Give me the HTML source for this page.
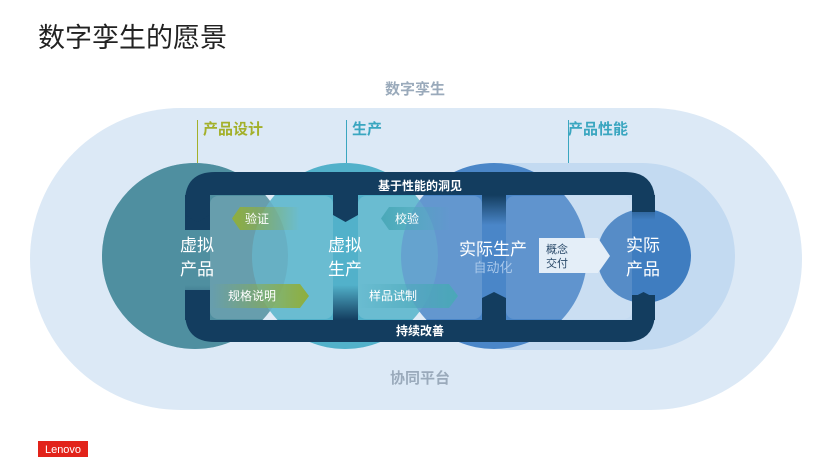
<!DOCTYPE html>
<html><head><meta charset="utf-8"><style>
body{margin:0;background:#fff;}
svg{display:block;font-family:"Liberation Sans","Noto Sans CJK SC",sans-serif;}
</style></head><body>
<svg width="837" height="468" viewBox="0 0 837 468">
<defs>
<linearGradient id="gL" x1="0" x2="1"><stop offset="0" stop-color="#8fae3c"/><stop offset="1" stop-color="#8fae3c" stop-opacity="0"/></linearGradient>
<linearGradient id="gR" x1="1" x2="0"><stop offset="0" stop-color="#8fae3c"/><stop offset="1" stop-color="#8fae3c" stop-opacity="0"/></linearGradient>
<linearGradient id="tL" x1="0" x2="1"><stop offset="0" stop-color="#4aa8b8"/><stop offset="1" stop-color="#4aa8b8" stop-opacity="0"/></linearGradient>
<linearGradient id="tR" x1="1" x2="0"><stop offset="0" stop-color="#4aa8b8"/><stop offset="1" stop-color="#4aa8b8" stop-opacity="0"/></linearGradient>
<linearGradient id="dn" x1="0" y1="0" x2="0" y2="1"><stop offset="0" stop-color="#133d5f"/><stop offset="1" stop-color="#133d5f" stop-opacity="0"/></linearGradient>
<linearGradient id="up" x1="0" y1="1" x2="0" y2="0"><stop offset="0" stop-color="#133d5f"/><stop offset="1" stop-color="#133d5f" stop-opacity="0"/></linearGradient>
</defs>
<text x="38" y="47" font-size="27" fill="#222">数字孪生的愿景</text>
<rect x="30" y="108" width="772" height="302" rx="151" fill="#dce9f6"/>
<rect x="420" y="163" width="315" height="187" rx="93" fill="#c3daf1"/>
<text x="415" y="94" font-size="15" font-weight="bold" fill="#9aaabb" text-anchor="middle">数字孪生</text>
<text x="420" y="383" font-size="15" font-weight="bold" fill="#9aaabb" text-anchor="middle">协同平台</text>
<line x1="197.5" y1="120" x2="197.5" y2="163" stroke="#a3b02a"/>
<line x1="346.5" y1="120" x2="346.5" y2="163" stroke="#3aa6c0"/>
<line x1="568.5" y1="120" x2="568.5" y2="163" stroke="#3aa6c0"/>
<text x="203" y="134" font-size="15" font-weight="bold" fill="#a3b02a">产品设计</text>
<text x="352" y="134" font-size="15" font-weight="bold" fill="#3aa6c0">生产</text>
<text x="568" y="134" font-size="15" font-weight="bold" fill="#3aa6c0">产品性能</text>
<!-- circles -->
<circle cx="195" cy="256" r="93" fill="#4f8fa0"/>
<circle cx="345" cy="256" r="93" fill="#4fb0c9" opacity="0.97"/>
<circle cx="195" cy="256" r="93" fill="#4f8fa0" opacity="0.5"/>
<circle cx="494" cy="256" r="93" fill="#4a86c8"/>
<circle cx="345" cy="256" r="93" fill="#4fb0c9" opacity="0.35"/>
<circle cx="644" cy="256" r="47" fill="#3f7dc0"/>
<!-- band top/bottom -->
<path d="M185 230 V202 Q185 172 215 172 H625 Q655 172 655 202 V212 H632 V195 H210 V230 Z" fill="#133d5f"/>
<path d="M185 290 V312 Q185 342 215 342 H625 Q655 342 655 312 V295 H632 V320 H210 V290 Z" fill="#133d5f"/>
<!-- inner boxes -->
<rect x="210" y="196" width="123" height="123" rx="8" fill="#fff" opacity="0.14"/>
<rect x="358" y="196" width="124" height="123" rx="8" fill="#fff" opacity="0.14"/>
<rect x="506" y="196" width="126" height="123" rx="8" fill="#fff" opacity="0.12"/>
<!-- connectors top -->
<path d="M185 195 H210 V215 L197.5 222 L185 215Z" fill="#133d5f"/>
<path d="M333 195 H358 V215 L345.5 222 L333 215Z" fill="#133d5f"/>
<rect x="482" y="195" width="24" height="30" fill="url(#dn)"/>
<rect x="632" y="195" width="23" height="25" fill="url(#dn)"/>
<!-- connectors bottom -->
<rect x="185" y="285" width="25" height="35" fill="url(#up)"/>
<rect x="333" y="285" width="25" height="35" fill="url(#up)"/>
<path d="M482 320 V298 L494 292 L506 298 V320Z" fill="#133d5f"/>
<path d="M632 320 V298 L643.5 292 L655 298 V320Z" fill="#133d5f"/>
<!-- arrows -->
<path d="M240 207 H300 V230 H240 L232 218.5Z" fill="url(#gL)"/>
<path d="M212 284 H300 L309 296 L300 308 H212Z" fill="url(#gR)"/>
<path d="M389 207 H450 V230 H389 L381 218.5Z" fill="url(#tL)"/>
<path d="M358 284 H449 L458 296 L449 308 H358Z" fill="url(#tR)"/>
<path d="M539 238 H598 L610 256 L598 273 H539Z" fill="#e4eef8"/>
<text x="245" y="223" font-size="12" fill="#fff">验证</text>
<text x="395" y="223" font-size="12" fill="#fff">校验</text>
<text x="228" y="300" font-size="12" fill="#fff">规格说明</text>
<text x="369" y="300" font-size="12" fill="#fff">样品试制</text>
<text x="546" y="253" font-size="11" fill="#2a4a6a">概念</text>
<text x="546" y="267" font-size="11" fill="#2a4a6a">交付</text>
<text x="420" y="190" font-size="12" font-weight="bold" fill="#fff" text-anchor="middle">基于性能的洞见</text>
<text x="420" y="335" font-size="12" font-weight="bold" fill="#fff" text-anchor="middle">持续改善</text>
<g font-size="17" fill="#fff" text-anchor="middle">
<text x="197" y="251">虚拟</text><text x="197" y="275">产品</text>
<text x="345" y="251">虚拟</text><text x="345" y="275">生产</text>
<text x="493" y="255">实际生产</text>
<text x="643" y="251">实际</text><text x="643" y="275">产品</text>
</g>
<text x="493" y="272" font-size="13" fill="#a9c8ea" text-anchor="middle">自动化</text>
<rect x="38" y="441" width="50" height="16" fill="#e2231a"/>
<text x="63" y="453" font-size="11" fill="#fff" text-anchor="middle">Lenovo</text>
</svg>
</body></html>
